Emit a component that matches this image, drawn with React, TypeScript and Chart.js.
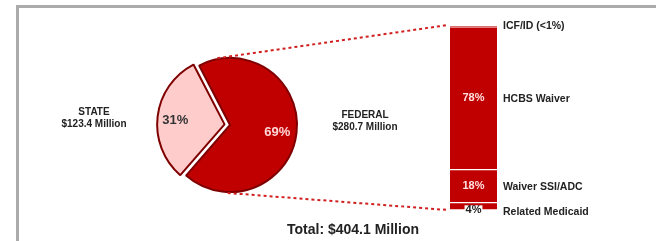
import React, { useEffect, useRef } from "react";
import { Chart, registerables } from "chart.js";

Chart.register(...registerables);

// ---- data ----
const pieLabels = ["STATE", "FEDERAL"];
const pieAmounts = ["$123.4 Million", "$280.7 Million"];
const pieValues = [31, 69];
const piePctLabels = ["31%", "69%"];

const barCategories = ["Related Medicaid", "Waiver SSI/ADC", "HCBS Waiver", "ICF/ID (<1%)"];
const barValues = [4, 18, 78, 0.4];
const barPctLabels = ["4%", "18%", "78%", ""];

const totalLabel = "Total: $404.1 Million";

const RED = "#C00000";
const DARK = "#7F0000";
const PINK = "#FFCCCC";
const FONT = "'Liberation Sans', Arial, sans-serif";

export default function App() {
  const barRef = useRef<HTMLCanvasElement>(null);
  const pieRef = useRef<HTMLCanvasElement>(null);

  useEffect(() => {
    const barMax = barValues.reduce((a, b) => a + b, 0);

    const barLabelPlugin = {
      id: "barLabels",
      afterDatasetsDraw(chart: any) {
        const ctx = chart.ctx;
        ctx.save();
        chart.data.datasets.forEach((ds: any, i: number) => {
          const el = chart.getDatasetMeta(i).data[0];
          if (!el) return;
          const top = Math.min(el.y, el.base);
          const bot = Math.max(el.y, el.base);
          const cy = (top + bot) / 2;
          const right = el.x + el.width / 2;
          const pct = barPctLabels[i];
          if (pct) {
            ctx.font = `bold 11px ${FONT}`;
            ctx.textAlign = "center";
            ctx.textBaseline = "middle";
            if (bot - top < 14) {
              const w = ctx.measureText(pct).width;
              ctx.fillStyle = "#fff";
              ctx.fillRect(el.x - w / 2 - 1, cy - 1, w + 2, 8);
              ctx.fillStyle = "#222";
              ctx.fillText(pct, el.x, cy + 4);
            } else {
              ctx.fillStyle = "#FFE0E0";
              ctx.fillText(pct, el.x, cy);
            }
          }
          ctx.font = `bold 10.5px ${FONT}`;
          ctx.textAlign = "left";
          ctx.textBaseline = "middle";
          ctx.fillStyle = "#222";
          const ly = bot - top < 2 ? top : bot - top < 14 ? cy + 6 : cy + 1;
          ctx.fillText(barCategories[i], right + 6, ly);
        });
        ctx.restore();
      },
    };

    const barChart = new Chart(barRef.current!, {
      type: "bar",
      data: {
        labels: [""],
        datasets: barCategories.map((c, i) => ({
          label: c,
          data: [barValues[i]],
          backgroundColor: RED,
          borderColor: "#ffffff",
          borderWidth: { top: 1, bottom: 1, left: 0, right: 0 },
          borderSkipped: false,
          barThickness: 47,
        })),
      },
      options: {
        animation: false,
        responsive: false,
        events: [],
        layout: { padding: { left: 400, right: 109, top: 26, bottom: 31 } },
        plugins: { legend: { display: false }, tooltip: { enabled: false } },
        scales: {
          x: { stacked: true, display: false },
          y: { stacked: true, display: false, min: 0, max: barMax },
        },
      },
      plugins: [barLabelPlugin],
    });

    const pieDecor = {
      id: "pieDecor",
      afterDatasetsDraw(chart: any) {
        const ctx = chart.ctx;
        const arcs = chart.getDatasetMeta(0).data;
        const a0 = arcs[1];
        const cx = a0.x;
        const cy = a0.y;
        const r = a0.outerRadius;

        const bm = barChart.getDatasetMeta(barCategories.length - 1).data[0] as any;
        const bb = barChart.getDatasetMeta(0).data[0] as any;
        const barLeft = bm.x - bm.width / 2;
        const barTop = bm.y;
        const barBottom = bb.base;
        const upA = (259 * Math.PI) / 180;
        const loA = (92 * Math.PI) / 180;
        ctx.save();
        ctx.strokeStyle = "#D02020";
        ctx.lineWidth = 2;
        ctx.setLineDash([3, 3]);
        ctx.beginPath();
        ctx.moveTo(cx + Math.cos(upA) * r, cy + Math.sin(upA) * r - 1);
        ctx.lineTo(barLeft - 2, barTop - 1);
        ctx.moveTo(cx + Math.cos(loA) * r, cy + Math.sin(loA) * r + 1);
        ctx.lineTo(barLeft - 2, barBottom);
        ctx.stroke();
        ctx.restore();

        ctx.save();
        ctx.font = `bold 13px ${FONT}`;
        ctx.textAlign = "center";
        ctx.textBaseline = "middle";
        arcs.forEach((arc: any, i: number) => {
          const mid = (arc.startAngle + arc.endAngle) / 2;
          const off = (arc.options.offset || 0) / 4;
          const rr = arc.outerRadius * (i === 0 ? 0.74 : 0.71);
          const x = arc.x + Math.cos(mid) * (rr + off);
          const y = arc.y + Math.sin(mid) * (rr + off);
          ctx.fillStyle = i === 0 ? "#333" : "#FFD6D6";
          ctx.fillText(piePctLabels[i], x, y + 2);
        });
        ctx.restore();

        ctx.save();
        ctx.font = `bold 10px ${FONT}`;
        ctx.textAlign = "center";
        ctx.textBaseline = "middle";
        ctx.fillStyle = "#222";
        const side = [cx - 136, cx + 135];
        const lift = [13, 10];
        pieLabels.forEach((l, i) => {
          ctx.fillText(l, side[i], cy - lift[i]);
          ctx.fillText(pieAmounts[i], side[i], cy - lift[i] + 12);
        });
        ctx.restore();

        ctx.save();
        ctx.font = `bold 14px ${FONT}`;
        ctx.textAlign = "center";
        ctx.textBaseline = "middle";
        ctx.fillStyle = "#222";
        ctx.fillText(totalLabel, 353, 230);
        ctx.restore();
      },
    };

    const pieChart = new Chart(pieRef.current!, {
      type: "pie",
      data: {
        labels: pieLabels,
        datasets: [
          {
            data: pieValues,
            backgroundColor: [PINK, RED],
            borderColor: [DARK, DARK],
            borderWidth: 2,
            offset: [22, 0],
          },
        ],
      },
      options: {
        animation: false,
        responsive: false,
        events: [],
        rotation: 221,
        radius: 67,
        layout: { padding: { left: 160, right: 356, top: 55, bottom: 46 } },
        plugins: { legend: { display: false }, tooltip: { enabled: false } },
      } as any,
      plugins: [pieDecor],
    });

    return () => {
      pieChart.destroy();
      barChart.destroy();
    };
  }, []);

  return (
    <div
      style={{
        position: "fixed",
        left: 0,
        top: 0,
        width: 656,
        height: 241,
        overflow: "hidden",
        background: "#fff",
      }}
    >
      <div
        style={{
          position: "absolute",
          left: 16,
          top: 5,
          width: 700,
          height: 300,
          border: "3px solid #ABABAB",
          boxSizing: "border-box",
        }}
      />
      <canvas
        ref={barRef}
        width={656}
        height={241}
        style={{ position: "absolute", left: 0, top: 0, width: 656, height: 241 }}
      />
      <canvas
        ref={pieRef}
        width={656}
        height={241}
        style={{ position: "absolute", left: 0, top: 0, width: 656, height: 241 }}
      />
    </div>
  );
}
